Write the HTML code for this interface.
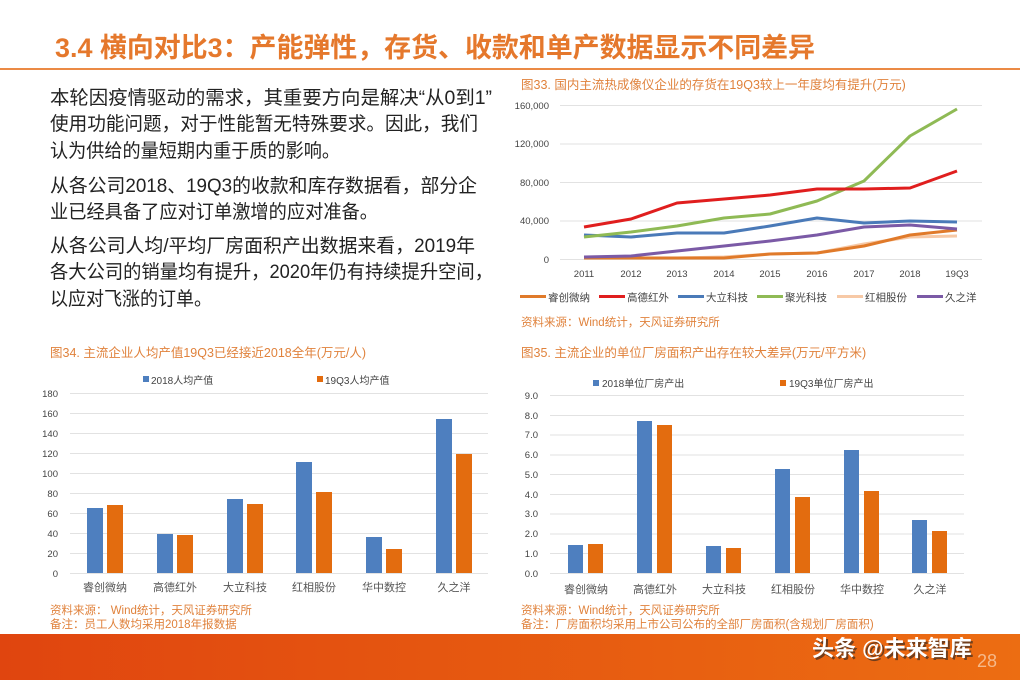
<!DOCTYPE html>
<html><head><meta charset="utf-8"><style>
html,body{margin:0;padding:0;background:#fff}
svg{display:block}
text{font-family:"Liberation Sans","Noto Sans CJK SC",sans-serif}
</style></head><body>
<svg width="1020" height="680" viewBox="0 0 1020 680" xmlns="http://www.w3.org/2000/svg">
<defs><linearGradient id="fg" x1="0" x2="1"><stop offset="0" stop-color="#e0450f"/><stop offset="1" stop-color="#ec6d12"/></linearGradient></defs>
<!-- header -->
<text x="55" y="57" font-size="27" font-weight="bold" fill="#e5782c" textLength="760" lengthAdjust="spacingAndGlyphs">3.4 横向对比3：产能弹性，存货、收款和单产数据显示不同差异</text>
<rect x="0" y="68" width="1020" height="2" fill="#eb8a45"/>
<g font-size="19" fill="#222">
<text x="50" y="104" textLength="442" lengthAdjust="spacingAndGlyphs">本轮因疫情驱动的需求，其重要方向是解决“从0到1”</text>
<text x="50" y="130" textLength="428" lengthAdjust="spacingAndGlyphs">使用功能问题，对于性能暂无特殊要求。因此，我们</text>
<text x="50" y="157" textLength="290" lengthAdjust="spacingAndGlyphs">认为供给的量短期内重于质的影响。</text>
<text x="50" y="192" textLength="427" lengthAdjust="spacingAndGlyphs">从各公司2018、19Q3的收款和库存数据看，部分企</text>
<text x="50" y="218" textLength="328" lengthAdjust="spacingAndGlyphs">业已经具备了应对订单激增的应对准备。</text>
<text x="50" y="252" textLength="425" lengthAdjust="spacingAndGlyphs">从各公司人均/平均厂房面积产出数据来看，2019年</text>
<text x="50" y="278" textLength="443" lengthAdjust="spacingAndGlyphs">各大公司的销量均有提升，2020年仍有持续提升空间，</text>
<text x="50" y="305" textLength="162" lengthAdjust="spacingAndGlyphs">以应对飞涨的订单。</text>
</g>
<!-- chart 33 -->
<text x="521" y="89" font-size="12.5" fill="#e0823c">图33. 国内主流热成像仪企业的存货在19Q3较上一年度均有提升(万元)</text>
<g stroke="#e2e2e2" stroke-width="1">
<line x1="560" x2="982" y1="105.5" y2="105.5"/><line x1="560" x2="982" y1="144" y2="144"/><line x1="560" x2="982" y1="182.5" y2="182.5"/><line x1="560" x2="982" y1="221" y2="221"/><line x1="560" x2="982" y1="259.5" y2="259.5"/>
</g>
<g font-size="9.5" fill="#444" text-anchor="end">
<text x="549" y="109">160,000</text><text x="549" y="147">120,000</text><text x="549" y="186">80,000</text><text x="549" y="224">40,000</text><text x="549" y="263">0</text>
</g>
<g font-size="9.5" fill="#444" text-anchor="middle">
<text x="584" y="277">2011</text><text x="631" y="277">2012</text><text x="677" y="277">2013</text><text x="724" y="277">2014</text><text x="770" y="277">2015</text><text x="817" y="277">2016</text><text x="864" y="277">2017</text><text x="910" y="277">2018</text><text x="957" y="277">19Q3</text>
</g>
<g fill="none" stroke-width="3" stroke-linejoin="round">
<polyline stroke="#f7c9a6" points="584,258 631,258 677,258 724,257 770,254 817,253 864,244 910,237 957,236"/>
<polyline stroke="#e07a2a" points="584,258 631,258 677,258 724,258 770,254 817,253 864,246 910,235 957,230"/>
<polyline stroke="#7b5aa6" points="584,257 631,256 677,251 724,246 770,241 817,235 864,227 910,225 957,229"/>
<polyline stroke="#4a7ab8" points="584,235 631,237 677,233 724,233 770,226 817,218 864,223 910,221 957,222"/>
<polyline stroke="#8fba55" points="584,237 631,232 677,226 724,218 770,214 817,201 864,181 910,136 957,109"/>
<polyline stroke="#e01e1e" points="584,227 631,219 677,203 724,199 770,195 817,189 864,189 910,188 957,171"/>
</g>
<g font-size="10.5" fill="#444">
<rect x="520" y="295" width="26" height="3" fill="#e07a2a"/><text x="548" y="301">睿创微纳</text>
<rect x="599" y="295" width="26" height="3" fill="#e01e1e"/><text x="627" y="301">高德红外</text>
<rect x="678" y="295" width="26" height="3" fill="#4a7ab8"/><text x="706" y="301">大立科技</text>
<rect x="757" y="295" width="26" height="3" fill="#8fba55"/><text x="785" y="301">聚光科技</text>
<rect x="837" y="295" width="26" height="3" fill="#f7c9a6"/><text x="865" y="301">红相股份</text>
<rect x="917" y="295" width="26" height="3" fill="#7b5aa6"/><text x="945" y="301">久之洋</text>
</g>
<text x="521" y="326" font-size="11.5" fill="#e0823c">资料来源：Wind统计，天风证券研究所</text>
<!-- chart 34 -->
<text x="50" y="357" font-size="12.5" fill="#e0823c">图34. 主流企业人均产值19Q3已经接近2018全年(万元/人)</text>
<g font-size="10" fill="#444"><rect x="143" y="376" width="6" height="6" fill="#4e7fbf"/><text x="151" y="384">2018人均产值</text><rect x="317" y="376" width="6" height="6" fill="#e36c0f"/><text x="325" y="384">19Q3人均产值</text></g>
<g stroke="#e2e2e2">
<line x1="70" x2="488" y1="393.5" y2="393.5"/><line x1="70" x2="488" y1="413.5" y2="413.5"/><line x1="70" x2="488" y1="433.5" y2="433.5"/><line x1="70" x2="488" y1="453.5" y2="453.5"/><line x1="70" x2="488" y1="473.5" y2="473.5"/><line x1="70" x2="488" y1="493.5" y2="493.5"/><line x1="70" x2="488" y1="513.5" y2="513.5"/><line x1="70" x2="488" y1="533.5" y2="533.5"/><line x1="70" x2="488" y1="553.5" y2="553.5"/><line x1="70" x2="488" y1="573.5" y2="573.5"/>
</g>
<g font-size="9.5" fill="#444" text-anchor="end">
<text x="58" y="397">180</text><text x="58" y="417">160</text><text x="58" y="437">140</text><text x="58" y="457">120</text><text x="58" y="477">100</text><text x="58" y="497">80</text><text x="58" y="517">60</text><text x="58" y="537">40</text><text x="58" y="557">20</text><text x="58" y="577">0</text>
</g>
<g fill="#4e7fbf">
<rect x="87" y="508" width="16" height="65"/><rect x="157" y="534" width="16" height="39"/><rect x="227" y="499" width="16" height="74"/><rect x="296" y="462" width="16" height="111"/><rect x="366" y="537" width="16" height="36"/><rect x="436" y="419" width="16" height="154"/>
</g>
<g fill="#e36c0f">
<rect x="107" y="505" width="16" height="68"/><rect x="177" y="535" width="16" height="38"/><rect x="247" y="504" width="16" height="69"/><rect x="316" y="492" width="16" height="81"/><rect x="386" y="549" width="16" height="24"/><rect x="456" y="454" width="16" height="119"/>
</g>
<g font-size="11" fill="#555" text-anchor="middle">
<text x="105" y="591">睿创微纳</text><text x="175" y="591">高德红外</text><text x="245" y="591">大立科技</text><text x="314" y="591">红相股份</text><text x="384" y="591">华中数控</text><text x="454" y="591">久之洋</text>
</g>
<text x="50" y="614" font-size="11.5" fill="#e0823c">资料来源： Wind统计，天风证券研究所</text>
<text x="50" y="628" font-size="11.5" fill="#e0823c">备注：员工人数均采用2018年报数据</text>
<!-- chart 35 -->
<text x="521" y="357" font-size="12.5" fill="#e0823c">图35. 主流企业的单位厂房面积产出存在较大差异(万元/平方米)</text>
<g font-size="10" fill="#444"><rect x="593" y="380" width="6" height="6" fill="#4e7fbf"/><text x="602" y="387">2018单位厂房产出</text><rect x="780" y="380" width="6" height="6" fill="#e36c0f"/><text x="789" y="387">19Q3单位厂房产出</text></g>
<g stroke="#e2e2e2">
<line x1="550" x2="964" y1="395.5" y2="395.5"/><line x1="550" x2="964" y1="415.5" y2="415.5"/><line x1="550" x2="964" y1="435" y2="435"/><line x1="550" x2="964" y1="455" y2="455"/><line x1="550" x2="964" y1="474.5" y2="474.5"/><line x1="550" x2="964" y1="494.5" y2="494.5"/><line x1="550" x2="964" y1="514" y2="514"/><line x1="550" x2="964" y1="534" y2="534"/><line x1="550" x2="964" y1="553.5" y2="553.5"/><line x1="550" x2="964" y1="573.5" y2="573.5"/>
</g>
<g font-size="9.5" fill="#444" text-anchor="end">
<text x="538" y="399">9.0</text><text x="538" y="419">8.0</text><text x="538" y="438">7.0</text><text x="538" y="458">6.0</text><text x="538" y="478">5.0</text><text x="538" y="498">4.0</text><text x="538" y="517">3.0</text><text x="538" y="537">2.0</text><text x="538" y="557">1.0</text><text x="538" y="577">0.0</text>
</g>
<g fill="#4e7fbf">
<rect x="568" y="545" width="15" height="28"/><rect x="637" y="421" width="15" height="152"/><rect x="706" y="546" width="15" height="27"/><rect x="775" y="469" width="15" height="104"/><rect x="844" y="450" width="15" height="123"/><rect x="912" y="520" width="15" height="53"/>
</g>
<g fill="#e36c0f">
<rect x="588" y="544" width="15" height="29"/><rect x="657" y="425" width="15" height="148"/><rect x="726" y="548" width="15" height="25"/><rect x="795" y="497" width="15" height="76"/><rect x="864" y="491" width="15" height="82"/><rect x="932" y="531" width="15" height="42"/>
</g>
<g font-size="11" fill="#555" text-anchor="middle">
<text x="586" y="593">睿创微纳</text><text x="655" y="593">高德红外</text><text x="724" y="593">大立科技</text><text x="793" y="593">红相股份</text><text x="862" y="593">华中数控</text><text x="930" y="593">久之洋</text>
</g>
<text x="521" y="614" font-size="11.5" fill="#e0823c">资料来源：Wind统计，天风证券研究所</text>
<text x="521" y="628" font-size="11.5" fill="#e0823c">备注：厂房面积均采用上市公司公布的全部厂房面积(含规划厂房面积)</text>
<!-- footer -->
<rect x="0" y="634" width="1020" height="46" fill="url(#fg)"/>
<text x="977" y="667" font-size="18" fill="#f6b98a">28</text>
<text x="814" y="658" font-size="22" font-weight="bold" fill="#222" opacity="0.6">头条 @未来智库</text>
<text x="812" y="656" font-size="22" font-weight="bold" fill="#fff">头条 @未来智库</text>
</svg>
</body></html>
